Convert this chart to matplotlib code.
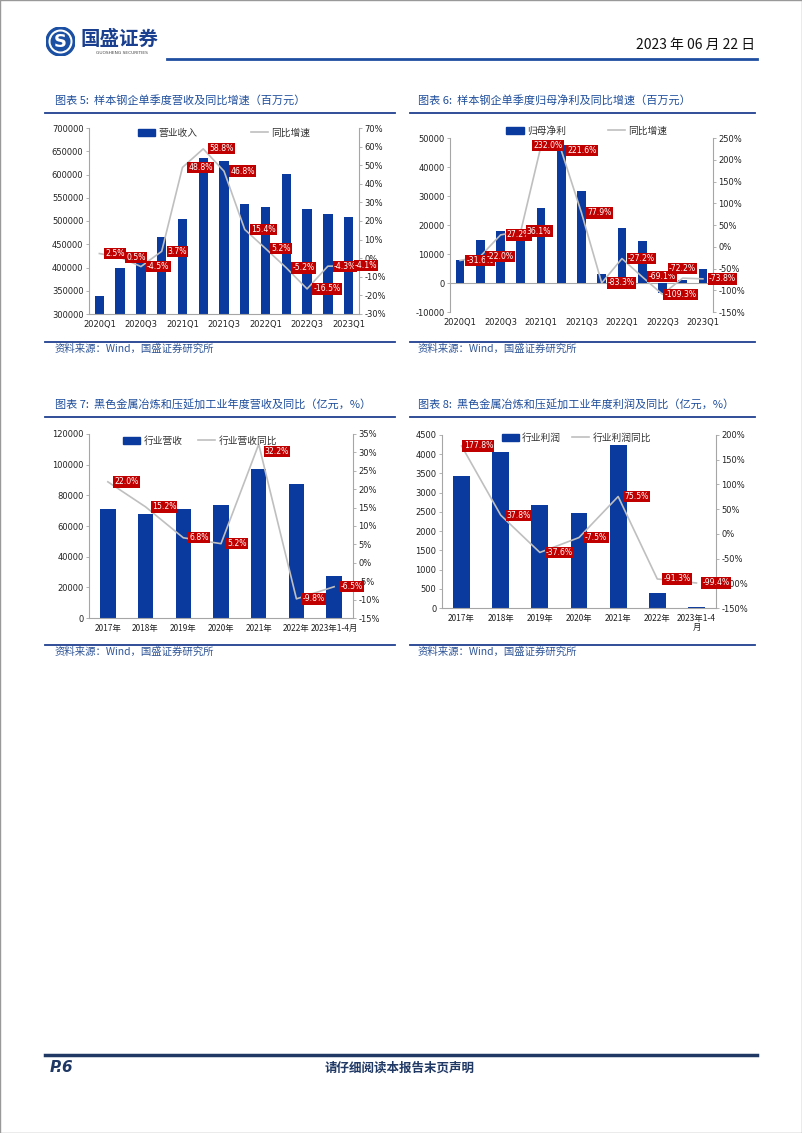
import numpy as np
import matplotlib
matplotlib.use('Agg')
import matplotlib.pyplot as plt
from matplotlib.patches import Patch, Circle, Rectangle
from matplotlib.lines import Line2D

plt.rcParams['font.family'] = ['Noto Sans CJK SC', 'DejaVu Sans']

# ---- 数据 ----
quarters = ['2020Q1', '2020Q2', '2020Q3', '2020Q4', '2021Q1', '2021Q2', '2021Q3',
            '2021Q4', '2022Q1', '2022Q2', '2022Q3', '2022Q4', '2023Q1']
revenue = [339000, 400000, 416000, 465000, 504000, 636000, 629000,
           537000, 530000, 602000, 526000, 515000, 508000]
revenue_yoy = [2.5, 0.5, -4.5, 3.7, 48.8, 58.8, 46.8, 15.4, 5.2, -5.2, -16.5, -4.3, -4.1]
net_profit = [7800, 14800, 17900, 16000, 25700, 47700, 31700,
              3000, 18800, 14500, -3300, 900, 5000]
profit_yoy = [-31.6, -22.0, 27.2, 36.1, 232.0, 221.6, 77.9,
              -83.3, -27.2, -69.1, -109.3, -72.2, -73.8]

years = ['2017年', '2018年', '2019年', '2020年', '2021年', '2022年', '2023年1-4月']
years8 = ['2017年', '2018年', '2019年', '2020年', '2021年', '2022年', '2023年1-4\n月']
ind_revenue = [71000, 67800, 71200, 73400, 97200, 87600, 27200]
ind_revenue_yoy = [22.0, 15.2, 6.8, 5.2, 32.2, -9.8, -6.5]
ind_profit = [3435, 4050, 2690, 2483, 4240, 390, 35]
ind_profit_yoy = [177.8, 37.8, -37.6, -7.5, 75.5, -91.3, -99.4]

BLUE = '#0B3A9E'
GRAY = '#BFBFBF'
RED = '#C00000'
DARK = '#1F3F8F'
SPINE = '#A6A6A6'
W, H = 802, 1133

fig = plt.figure(figsize=(W / 100, H / 100), dpi=100)


def fx(px):
    return px / W


def fy(py):
    return 1 - py / H


def hline(x0, x1, y, lw, color):
    fig.add_artist(Line2D([fx(x0), fx(x1)], [fy(y), fy(y)], lw=lw, color=color))


def box_axes(l, t, r, b):
    return fig.add_axes([fx(l), fy(b), (r - l) / W, (b - t) / H])


def chart(rect, cats, bars, yoy, ylim, ystep, y2lim, y2step, names, leg_pos, colsp,
          show_every=1, zero_line=False, width=0.45, special=None, xfont=None):
    ax = box_axes(*rect)
    x = np.arange(len(cats))
    ax.bar(x, bars, width=width, color=BLUE, zorder=2)
    ax.set_xlim(-0.5, len(cats) - 0.5)
    ax.set_ylim(*ylim)
    ax.set_yticks(np.arange(ylim[0], ylim[1] + 1, ystep))
    ax.set_yticklabels([f'{v:d}' for v in np.arange(ylim[0], ylim[1] + 1, ystep)],
                       family='DejaVu Sans', fontsize=6)
    ax.set_xticks(x)
    ax.set_xticklabels([c if i % show_every == 0 else '' for i, c in enumerate(cats)],
                       fontsize=6, family=xfont or ['DejaVu Sans', 'Noto Sans CJK SC'],
                       linespacing=1.0)
    ax.tick_params(axis='x', length=0, pad=4, colors='#222222')
    ax.tick_params(axis='y', length=2, width=0.6, color=SPINE, labelcolor='#222222', pad=2)
    for s in ['top', 'right']:
        ax.spines[s].set_visible(False)
    ax.spines['left'].set_color(SPINE)
    ax.spines['bottom'].set_color(SPINE)
    if zero_line:
        ax.spines['bottom'].set_visible(False)
        ax.axhline(0, color=SPINE, lw=0.8, zorder=1)

    ax2 = ax.twinx()
    ax2.plot(x, yoy, color=GRAY, lw=1.2, zorder=3)
    ax2.set_ylim(*y2lim)
    t2 = np.arange(y2lim[0], y2lim[1] + 1, y2step)
    ax2.set_yticks(t2)
    ax2.set_yticklabels([f'{v:d}%' for v in t2], family='DejaVu Sans', fontsize=6)
    ax2.tick_params(axis='y', length=2, width=0.6, color=SPINE, labelcolor='#222222', pad=2)
    for s in ['top', 'left', 'bottom']:
        ax2.spines[s].set_visible(False)
    ax2.spines['right'].set_color(SPINE)

    special = special or {}
    for i, v in enumerate(yoy):
        dx, dy, ha = special.get(i, (4.4, 0, 'left'))
        ax2.annotate(f'{v:.1f}%', (i, v), xytext=(dx, dy), textcoords='offset points',
                     ha=ha, va='center', color='white', fontsize=5.6, family='DejaVu Sans',
                     bbox=dict(boxstyle='square,pad=0.15', fc=RED, ec='none'), zorder=5)

    handles = [Patch(color=BLUE), Line2D([0], [0], color=GRAY, lw=1.2)]
    ax2.legend(handles, names, loc='center', bbox_to_anchor=leg_pos, ncol=2, frameon=False,
               fontsize=7, handlelength=1.8, handleheight=0.8, handletextpad=0.3,
               columnspacing=colsp, labelcolor='#333333')
    return ax, ax2


# ---- 页眉 ----
logo = box_axes(46, 27, 75, 56)
logo.set_xlim(-1, 1)
logo.set_ylim(-1, 1)
logo.set_aspect('equal')
logo.axis('off')
logo.add_patch(Circle((0, 0), 1.0, color='#1A4FA3'))
logo.add_patch(Circle((0, 0), 0.78, color='white'))
logo.add_patch(Circle((0, 0), 0.64, color='#1A4FA3'))
logo.text(0, -0.05, 'S', color='white', fontsize=13, fontweight='bold', ha='center', va='center',
          family='DejaVu Sans')
fig.text(fx(81), fy(39), '国盛证券', fontsize=14, fontweight='bold', color='#1A3F8F',
         va='center', ha='left')
fig.text(fx(122), fy(53), 'GUOSHENG SECURITIES', fontsize=3.2, color='#444444',
         va='center', ha='center', family='DejaVu Sans')
fig.text(fx(755), fy(45), '2023 年 06 月 22 日', fontsize=10, color='#111111',
         va='center', ha='right')
hline(167, 757, 59, 2.0, '#1F4EA0')

# ---- 标题 / 来源 ----
titles = [(55, 100, '图表 5:  样本钢企单季度营收及同比增速（百万元）'),
          (418, 100, '图表 6:  样本钢企单季度归母净利及同比增速（百万元）'),
          (55, 405, '图表 7:  黑色金属冶炼和压延加工业年度营收及同比（亿元，%）'),
          (418, 405, '图表 8:  黑色金属冶炼和压延加工业年度利润及同比（亿元，%）')]
for tx, ty, tt in titles:
    fig.text(fx(tx), fy(ty), tt, fontsize=8, color='#1F4E9C', va='center', ha='left',
             style='italic')
for y in (113, 417, 342, 645):
    hline(45, 395, y, 1.3, DARK)
    hline(410, 755, y, 1.3, DARK)
for sx, sy in [(55, 349), (418, 349), (55, 652), (418, 652)]:
    fig.text(fx(sx), fy(sy), '资料来源：Wind，国盛证券研究所', fontsize=7.5, color='#2F5597',
             va='center', ha='left', style='italic')

# ---- 图表 ----
chart((89, 128, 359, 314), quarters, revenue, revenue_yoy, (300000, 700000), 50000,
      (-30, 70), 10, ['营业收入', '同比增速'], (0.5, 0.975), 5.5, show_every=2, width=0.45)

chart((450, 138, 713, 312), quarters, net_profit, profit_yoy, (-10000, 50000), 10000,
      (-150, 250), 50, ['归母净利', '同比增速'], (0.52, 1.04), 4.3, show_every=2,
      zero_line=True, width=0.43,
      special={4: (5, 0, 'center'), 10: (1.5, 0, 'left'), 11: (0, 7, 'center')})

chart((89, 434, 353, 618), years, ind_revenue, ind_revenue_yoy, (0, 120000), 20000,
      (-15, 35), 5, ['行业营收', '行业营收同比'], (0.42, 0.962), 1.6, width=0.41,
      special={4: (4.4, -5, 'left')}, xfont='Noto Sans CJK SC')

chart((442, 435, 716, 608), years8, ind_profit, ind_profit_yoy, (0, 4500), 500,
      (-150, 200), 50, ['行业利润', '行业利润同比'], (0.49, 0.983), 1.1, width=0.43,
      special={0: (1.5, 0, 'left')}, xfont='Noto Sans CJK SC')

# ---- 页脚 ----
hline(45, 757, 1055, 2.5, '#1F3864')
fig.text(fx(50), fy(1068), 'P.6', fontsize=11, fontweight='bold', style='italic',
         color='#1F3864', va='center', ha='left', family='DejaVu Sans')
fig.text(fx(400), fy(1068), '请仔细阅读本报告末页声明', fontsize=9, fontweight='bold',
         color='#1F3864', va='center', ha='center')

fig.add_artist(Rectangle((0, 0), 1, 1, transform=fig.transFigure, fill=False,
                         ec='#999999', lw=1.0))

fig.savefig('out.png', dpi=100)
